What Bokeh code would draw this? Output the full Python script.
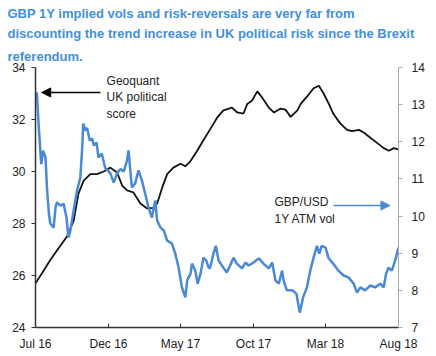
import pandas as pd
from bokeh.plotting import figure
from bokeh.models import (Range1d, LinearAxis, FixedTicker, DatetimeTickFormatter,
                          Title, Label, Arrow, NormalHead)
from bokeh.embed import file_html
from bokeh.resources import INLINE

# ---------------- data ----------------
title_lines = ["GBP 1Y implied vols and risk-reversals are very far from",
               "discounting the trend increase in UK political risk since the Brexit",
               "referendum."]

x_tick_dates = ["2016-07-01", "2016-12-01", "2017-05-01", "2017-10-01", "2018-03-01", "2018-08-01"]
left_ticks = [24, 26, 28, 30, 32, 34]
right_ticks = [7, 8, 9, 10, 11, 12, 13, 14]

# Geoquant UK political score (left axis)
geo_dates = ["2016-07-01", "2016-07-15", "2016-08-01", "2016-08-15", "2016-09-05", "2016-09-19",
             "2016-09-29", "2016-10-10", "2016-10-24", "2016-11-07", "2016-11-21", "2016-12-05",
             "2016-12-19", "2016-12-30", "2017-01-09", "2017-01-22", "2017-02-06", "2017-02-20",
             "2017-03-05", "2017-03-13", "2017-03-24", "2017-04-03", "2017-04-16", "2017-05-01",
             "2017-05-11", "2017-05-22", "2017-06-05", "2017-06-18", "2017-07-03", "2017-07-17",
             "2017-07-30", "2017-08-17", "2017-08-28", "2017-09-10", "2017-09-18", "2017-09-28",
             "2017-10-09", "2017-10-19", "2017-11-02", "2017-11-13", "2017-11-27", "2017-12-07",
             "2017-12-18", "2018-01-01", "2018-01-08", "2018-01-22", "2018-02-04", "2018-02-15",
             "2018-02-25", "2018-03-08", "2018-03-18", "2018-04-01", "2018-04-15", "2018-04-26",
             "2018-05-10", "2018-05-20", "2018-06-03", "2018-06-17", "2018-07-01", "2018-07-12",
             "2018-07-22", "2018-07-31"]
geo_vals = [25.7, 26.1, 26.6, 26.96, 27.5, 28.1,
            29.15, 29.65, 29.9, 29.9, 30.0, 30.15,
            29.96, 29.45, 29.27, 29.2, 28.77, 28.58,
            28.6, 28.77, 29.4, 29.9, 30.15, 30.3,
            30.2, 30.4, 30.8, 31.2, 31.65, 32.08,
            32.35, 32.46, 32.27, 32.23, 32.6, 32.73,
            33.08, 32.85, 32.46, 32.27, 32.42, 32.38,
            32.1, 32.35, 32.6, 32.9, 33.2, 33.3,
            33.0, 32.6, 32.2, 31.85, 31.6, 31.55,
            31.6, 31.5, 31.3, 31.1, 30.9, 30.8,
            30.9, 30.85]

# GBP/USD 1Y ATM vol (right axis)
vol_dates = ["2016-07-01", "2016-07-04", "2016-07-07", "2016-07-13", "2016-07-17", "2016-07-22",
             "2016-07-25", "2016-07-29", "2016-08-01", "2016-08-08", "2016-08-12", "2016-08-15",
             "2016-08-22", "2016-08-29", "2016-09-04", "2016-09-08", "2016-09-12", "2016-09-19",
             "2016-09-26", "2016-10-03", "2016-10-07", "2016-10-09", "2016-10-14", "2016-10-17",
             "2016-10-23", "2016-10-28", "2016-10-31", "2016-11-06", "2016-11-10", "2016-11-17",
             "2016-11-24", "2016-12-05", "2016-12-12", "2016-12-19", "2016-12-26", "2017-01-02",
             "2017-01-09", "2017-01-12", "2017-01-19", "2017-01-26", "2017-02-02", "2017-02-09",
             "2017-02-16", "2017-02-23", "2017-03-02", "2017-03-09", "2017-03-13", "2017-03-20",
             "2017-03-27", "2017-04-03", "2017-04-13", "2017-04-20", "2017-04-27", "2017-05-04",
             "2017-05-11", "2017-05-15", "2017-05-22", "2017-05-25", "2017-06-01", "2017-06-06",
             "2017-06-12", "2017-06-18", "2017-06-24", "2017-06-29", "2017-07-02", "2017-07-09",
             "2017-07-14", "2017-07-20", "2017-07-30", "2017-08-06", "2017-08-13", "2017-08-20",
             "2017-08-27", "2017-09-07", "2017-09-14", "2017-09-21", "2017-10-01", "2017-10-12",
             "2017-10-22", "2017-11-02", "2017-11-09", "2017-11-16", "2017-11-23", "2017-11-30",
             "2017-12-03", "2017-12-10", "2017-12-21", "2017-12-30", "2018-01-06", "2018-01-13",
             "2018-01-21", "2018-01-28", "2018-02-04", "2018-02-11", "2018-02-16", "2018-02-21",
             "2018-03-01", "2018-03-07", "2018-03-17", "2018-03-28", "2018-04-08", "2018-04-18",
             "2018-04-29", "2018-05-06", "2018-05-13", "2018-05-23", "2018-06-03", "2018-06-13",
             "2018-06-24", "2018-07-01", "2018-07-06", "2018-07-11", "2018-07-18", "2018-07-25",
             "2018-08-01"]
vol_vals = [13.33, 13.3, 12.57, 11.4, 11.76, 11.58,
            10.77, 10.07, 9.8, 9.69, 10.23, 10.37,
            10.28, 10.33, 9.96, 9.42, 9.61, 10.15,
            10.69, 11.04, 11.85, 12.49, 12.3, 12.38,
            12.03, 12.09, 11.9, 11.98, 11.58, 11.68,
            11.3, 11.15, 10.9, 11.15, 11.27, 11.2,
            11.5, 11.77, 10.77, 10.88, 11.23, 10.96,
            10.6, 10.23, 9.96, 10.42, 9.88, 9.69,
            9.61, 9.34, 9.26, 8.99, 8.61, 8.08,
            7.81, 8.27, 8.45, 8.72, 8.53, 8.18,
            8.45, 8.88, 8.8, 8.61, 8.6, 8.99,
            9.2, 8.8, 8.61, 8.48, 8.67, 8.88,
            8.72, 8.59, 8.75, 8.67, 8.75, 8.86,
            8.72, 8.59, 8.75, 8.27, 8.18, 8.53,
            8.27, 8.0, 8.0, 7.91, 7.4, 7.81,
            8.08, 8.53, 8.88, 9.2, 8.99, 9.2,
            9.15, 8.88, 8.72, 8.53, 8.4, 8.35,
            8.18, 7.94, 8.08, 8.0, 8.13, 8.08,
            8.18, 8.08, 8.45, 8.61, 8.53, 8.8,
            9.15]

# ---------------- styling ----------------
FONT = "Liberation Sans"
BLUE = "#4a89d6"
TITLE_BLUE = "#4390dc"
DARK = "#222222"


def ms(d):
    return pd.Timestamp(d).value // 10**6


p = figure(width=436, height=356, x_axis_type="datetime",
           output_backend="svg", toolbar_location=None,
           x_range=Range1d(ms("2016-07-01"), ms("2018-08-01")),
           y_range=Range1d(24, 34),
           min_border_left=35, min_border_right=38,
           min_border_top=67, min_border_bottom=29)
p.title = None
p.outline_line_color = None
p.xgrid.visible = False
p.ygrid.visible = False
p.background_fill_color = "white"
p.border_fill_color = "white"

# titles (outermost last)
for i, line in enumerate(reversed(title_lines)):
    t = Title(text=line, align="left", text_font=FONT, text_font_size="13px",
              text_font_style="bold", text_color=TITLE_BLUE, offset=-28,
              standoff=3 if i > 0 else 8)
    p.add_layout(t, "above")

# left axis
ax = p.yaxis[0]
ax.ticker = FixedTicker(ticks=left_ticks)
ax.axis_line_color = "#333333"
ax.axis_line_width = 1.5
ax.major_tick_line_color = "#333333"
ax.major_tick_out = 4
ax.major_tick_in = 0
ax.minor_tick_line_color = None
ax.major_label_standoff = 6
ax.major_label_text_font = FONT
ax.major_label_text_font_size = "12px"
ax.major_label_text_color = DARK

# right axis
p.extra_y_ranges = {"vol": Range1d(7, 14)}
rax = LinearAxis(y_range_name="vol", ticker=FixedTicker(ticks=right_ticks))
rax.axis_line_color = "#aaaaaa"
rax.major_tick_line_color = "#aaaaaa"
rax.major_tick_out = 4
rax.major_tick_in = 0
rax.minor_tick_line_color = None
rax.major_label_standoff = 9
rax.major_label_text_font = FONT
rax.major_label_text_font_size = "12px"
rax.major_label_text_color = DARK
p.add_layout(rax, "right")

# bottom axis
bx = p.xaxis[0]
bx.ticker = FixedTicker(ticks=[ms(d) for d in x_tick_dates])
bx.formatter = DatetimeTickFormatter(months="%b %y", days="%b %y", years="%b %y",
                                     hours="%b %y", minutes="%b %y")
bx.axis_line_color = "#333333"
bx.axis_line_width = 1.5
bx.major_tick_line_color = "#333333"
bx.major_tick_in = 4
bx.major_tick_out = 0
bx.minor_tick_line_color = None
bx.major_label_standoff = 9
bx.major_label_text_font = FONT
bx.major_label_text_font_size = "12px"
bx.major_label_text_color = DARK

# lines
p.line([ms(d) for d in geo_dates], geo_vals, line_color="#111111", line_width=1.8)
p.line([ms(d) for d in vol_dates], vol_vals, y_range_name="vol",
       line_color=BLUE, line_width=2.5)

# annotations
for txt, yv in [("Geoquant", 33.5), ("UK political", 32.85), ("score", 32.2)]:
    p.add_layout(Label(x=ms("2016-11-27"), y=yv, text=txt, text_font=FONT,
                       text_font_size="12px", text_color=DARK, text_baseline="middle"))
p.add_layout(Arrow(end=NormalHead(size=9, fill_color="black", line_color="black"),
                   x_start=ms("2016-11-14"), y_start=33.04,
                   x_end=ms("2016-07-14"), y_end=33.04,
                   line_color="black", line_width=1.5))

for txt, yv in [("GBP/USD", 28.81), ("1Y ATM vol", 28.19)]:
    p.add_layout(Label(x=ms("2017-11-14"), y=yv, text=txt, text_font=FONT,
                       text_font_size="12px", text_color=DARK, text_baseline="middle"))
p.add_layout(Arrow(end=NormalHead(size=9, fill_color=BLUE, line_color=BLUE),
                   x_start=ms("2018-03-18"), y_start=28.69,
                   x_end=ms("2018-07-14"), y_end=28.69,
                   line_color=BLUE, line_width=1.5))

open("out.html", "w").write(file_html(p, INLINE))
